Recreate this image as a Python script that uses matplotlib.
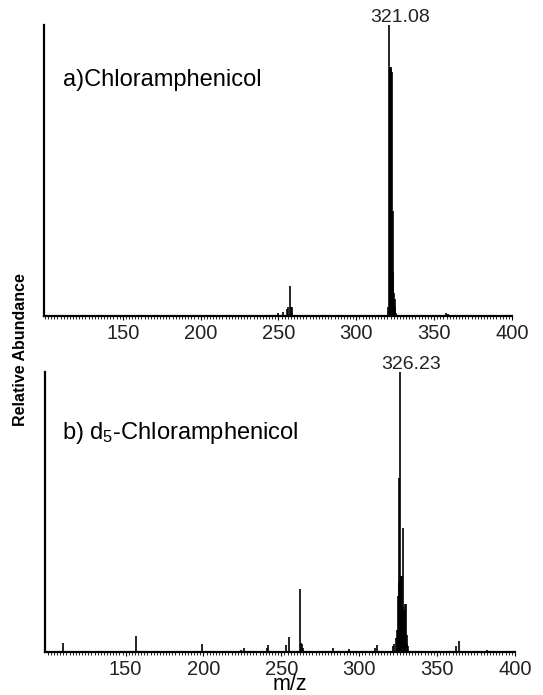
import matplotlib
matplotlib.use('Agg')
from matplotlib import pyplot as plt
from matplotlib.ticker import MultipleLocator

# a) Chloramphenicol spectrum (relative abundance, base peak = 1)
mz_a = [249.4, 253.0, 255.2, 256.2, 257.1, 258.0, 258.8, 282.5,
        320.6, 321.08, 321.4, 321.8, 322.2, 322.6, 323.0, 323.4, 323.8,
        324.2, 324.6, 325.0, 325.6, 357.4, 359.0]
int_a = [0.010, 0.015, 0.025, 0.030, 0.103, 0.030, 0.032, 0.004,
         0.030, 1.000, 0.857, 0.857, 0.857, 0.850, 0.840, 0.360, 0.150,
         0.080, 0.060, 0.030, 0.010, 0.012, 0.006]

# b) d5-Chloramphenicol spectrum
mz_b = [110.0, 156.7, 177.0, 198.9, 224.0, 226.0, 240.5, 241.6, 252.8, 255.1,
        261.8, 262.6, 263.4, 264.2, 283.2, 293.5, 310.0, 311.3,
        321.5, 322.5, 323.5, 324.5, 325.1, 325.5, 325.9, 326.23, 326.6, 327.0,
        327.4, 327.96, 328.4, 328.8, 329.2, 329.6, 330.0, 330.5, 331.0, 331.5,
        362.0, 364.1, 382.0]
int_b = [0.032, 0.056, 0.005, 0.030, 0.008, 0.014, 0.015, 0.026, 0.024, 0.054,
         0.224, 0.033, 0.030, 0.015, 0.015, 0.010, 0.015, 0.026,
         0.020, 0.030, 0.050, 0.080, 0.200, 0.250, 0.620, 1.000, 0.270, 0.270,
         0.270, 0.443, 0.160, 0.150, 0.150, 0.170, 0.170, 0.060, 0.030, 0.020,
         0.020, 0.040, 0.008]

x_ticks = [150, 200, 250, 300, 350, 400]
base_a = ('321.08', 321.08)
base_b = ('326.23', 326.23)

plt.rcParams['font.family'] = ['Liberation Sans', 'DejaVu Sans']
plt.rcParams['mathtext.fontset'] = 'custom'
plt.rcParams['mathtext.rm'] = 'Liberation Sans'
plt.rcParams['mathtext.it'] = 'Liberation Sans'

W, H = 543, 695
fig = plt.figure(figsize=(W / 100, H / 100), dpi=100)


def px_box(l, t, r, b):
    return [l / W, 1 - b / H, (r - l) / W, (b - t) / H]


def spectrum(ax, mz, inten, xlim, base):
    ax.vlines(mz, 0, inten, color='k', linewidth=1.2)
    ax.set_xlim(*xlim)
    ax.set_ylim(0, 1.0)
    for s in ['top', 'right']:
        ax.spines[s].set_visible(False)
    for s in ['left', 'bottom']:
        ax.spines[s].set_linewidth(1.6)
        ax.spines[s].set_color('k')
    ax.set_yticks([])
    ax.set_xticks(x_ticks)
    ax.xaxis.set_minor_locator(MultipleLocator(2))
    ax.tick_params(axis='x', which='major', length=3, width=0.8, pad=2.5, labelsize=14.5,
                   labelcolor='#222222')
    ax.tick_params(axis='x', which='minor', length=2, width=0.6)
    ax.annotate(base[0], xy=(base[1], 1.0), xytext=(11, 3), textcoords='offset pixels',
                ha='center', va='baseline', fontsize=14, color='#222222')


ax1 = fig.add_axes(px_box(44, 25, 512, 316))
spectrum(ax1, mz_a, int_a, (99.4, 400), base_a)

ax2 = fig.add_axes(px_box(45, 372, 515, 652))
spectrum(ax2, mz_b, int_b, (98.2, 400.1), base_b)

fig.text(63 / W, 1 - 80 / H, 'a)Chloramphenicol', ha='left', va='center', fontsize=17)
fig.text(62 / W, 1 - 433 / H, 'b) d$_5$-Chloramphenicol', ha='left', va='center', fontsize=17)
fig.text(290 / W, 1 - 690 / H, 'm/z', ha='center', va='baseline', fontsize=15.5)
fig.text(21 / W, 1 - 350 / H, 'Relative Abundance', ha='center', va='center',
         rotation=90, fontsize=11.5, fontweight='bold')

plt.savefig('out.png', dpi=100)
